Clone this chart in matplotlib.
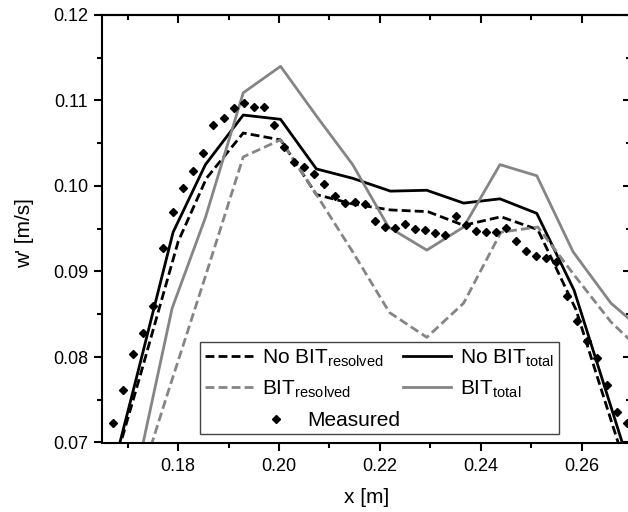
import matplotlib
matplotlib.use("Agg")
import matplotlib.pyplot as plt
from matplotlib.lines import Line2D

plt.rcParams['font.family'] = ['Liberation Sans', 'DejaVu Sans']
plt.rcParams['mathtext.default'] = 'regular'

# Measured data (x every 2 mm)
x_meas = [0.167, 0.169, 0.171, 0.173, 0.175, 0.177, 0.179, 0.181, 0.183, 0.185,
          0.187, 0.189, 0.191, 0.193, 0.195, 0.197, 0.199, 0.201, 0.203, 0.205,
          0.207, 0.209, 0.211, 0.213, 0.215, 0.217, 0.219, 0.221, 0.223, 0.225,
          0.227, 0.229, 0.231, 0.233, 0.235, 0.237, 0.239, 0.241, 0.243, 0.245,
          0.247, 0.249, 0.251, 0.253, 0.255, 0.257, 0.259, 0.261, 0.263, 0.265,
          0.267, 0.269]
w_meas = [0.0723, 0.0761, 0.0804, 0.0828, 0.0860, 0.0927, 0.0970, 0.0998, 0.1018, 0.1039,
          0.1071, 0.1080, 0.1091, 0.1097, 0.1092, 0.1092, 0.1071, 0.1046, 0.1028, 0.1022,
          0.1014, 0.1002, 0.0988, 0.0980, 0.0981, 0.0979, 0.0959, 0.0952, 0.0951, 0.0956,
          0.0950, 0.0949, 0.0945, 0.0943, 0.0965, 0.0954, 0.0947, 0.0946, 0.0946, 0.0951,
          0.0936, 0.0924, 0.0918, 0.0916, 0.0911, 0.0871, 0.0842, 0.0819, 0.0799, 0.0767,
          0.0736, 0.0723]

# Simulations
x_nobit_tot = [0.1643, 0.1717, 0.1790, 0.1854, 0.1929, 0.2003, 0.2074, 0.2146,
               0.2221, 0.2293, 0.2366, 0.2438, 0.2511, 0.2585, 0.2658, 0.2731]
w_nobit_tot = [0.0604, 0.0775, 0.0946, 0.1025, 0.1083, 0.1078, 0.1020, 0.1009,
               0.0994, 0.0995, 0.0980, 0.0985, 0.0968, 0.0878, 0.0742, 0.0605]

x_nobit_res = [0.1653, 0.1727, 0.1800, 0.1856, 0.1929, 0.2003, 0.2074, 0.2146,
               0.2221, 0.2295, 0.2366, 0.2440, 0.2513, 0.2589, 0.2662, 0.2735]
w_nobit_res = [0.0632, 0.0783, 0.0935, 0.1009, 0.1062, 0.1054, 0.0990, 0.0979,
               0.0972, 0.0970, 0.0954, 0.0964, 0.0949, 0.0855, 0.0719, 0.0584]

x_bit_tot = [0.1715, 0.1788, 0.1854, 0.1929, 0.2003, 0.2074, 0.2146, 0.2217,
             0.2293, 0.2366, 0.2438, 0.2511, 0.2583, 0.2658, 0.2731]
w_bit_tot = [0.0657, 0.0857, 0.0963, 0.1109, 0.1140, 0.1082, 0.1025, 0.0952,
             0.0925, 0.0952, 0.1025, 0.1012, 0.0923, 0.0863, 0.0826]

x_bit_res = [0.1707, 0.1780, 0.1856, 0.1929, 0.2003, 0.2074, 0.2146, 0.2219,
             0.2293, 0.2366, 0.2440, 0.2513, 0.2585, 0.2658, 0.2731]
w_bit_res = [0.0623, 0.0759, 0.0898, 0.1034, 0.1054, 0.0990, 0.0923, 0.0852,
             0.0823, 0.0863, 0.0946, 0.0952, 0.0896, 0.0841, 0.0800]

gray = '#858585'
dash = (3.2, 1.5)

fig = plt.figure(figsize=(6.28, 5.12), dpi=100)
ax = fig.add_axes([101.5 / 628, (512 - 442.5) / 512, 530.6 / 628, 427.5 / 512])

l_nr, = ax.plot(x_nobit_res, w_nobit_res, color='black', lw=2.0, dashes=dash)
l_nt, = ax.plot(x_nobit_tot, w_nobit_tot, color='black', lw=2.0)
l_br, = ax.plot(x_bit_res, w_bit_res, color=gray, lw=2.0, dashes=dash)
l_bt, = ax.plot(x_bit_tot, w_bit_tot, color=gray, lw=2.0)
l_m, = ax.plot(x_meas, w_meas, linestyle='none', marker='D', ms=4.2,
               color='black', zorder=5)

ax.set_xlim(0.1648, 0.2700)
ax.set_ylim(0.07, 0.12)
ax.set_xticks([0.18, 0.20, 0.22, 0.24, 0.26])
ax.set_xticks([0.17, 0.19, 0.21, 0.23, 0.25, 0.27], minor=True)
ax.set_yticks([0.07, 0.08, 0.09, 0.10, 0.11, 0.12])
ax.set_yticks([0.075, 0.085, 0.095, 0.105, 0.115], minor=True)
ax.set_xticklabels(['0.18', '0.20', '0.22', '0.24', '0.26'])
ax.set_yticklabels(['0.07', '0.08', '0.09', '0.10', '0.11', '0.12'])

for s in ax.spines.values():
    s.set_linewidth(1.5)
ax.tick_params(which='major', length=5.5, width=1.5, labelsize=13, pad=4,
               colors='black')
ax.tick_params(which='minor', length=3.5, width=1.5)
ax.tick_params(axis='x', which='major', pad=6)

# inward ticks on top and right
top = ax.secondary_xaxis('top')
top.set_xticks([0.18, 0.20, 0.22, 0.24, 0.26])
top.set_xticks([0.17, 0.19, 0.21, 0.23, 0.25, 0.27], minor=True)
top.tick_params(which='both', direction='in', labeltop=False, width=1.5)
top.tick_params(which='major', length=5.5)
top.tick_params(which='minor', length=3.5)
top.spines['top'].set_linewidth(1.5)
right = ax.secondary_yaxis('right')
right.set_yticks([0.07, 0.08, 0.09, 0.10, 0.11, 0.12])
right.set_yticks([0.075, 0.085, 0.095, 0.105, 0.115], minor=True)
right.tick_params(which='both', direction='in', labelright=False, width=1.5)
right.tick_params(which='major', length=6.5)
right.tick_params(which='minor', length=4)

ax.set_xlabel('x [m]', fontsize=15)
ax.set_ylabel("w' [m/s]", fontsize=15)
ax.xaxis.set_label_coords(0.499, -0.106)
ax.yaxis.set_label_coords(-0.127, 0.49)

blank = Line2D([], [], linestyle='none')
leg = ax.legend([l_nr, l_br, blank, l_nt, l_bt],
                ['No BIT$_{resolved}$', 'BIT$_{resolved}$', ' ',
                 'No BIT$_{total}$', 'BIT$_{total}$'],
                ncol=2, loc='upper left', bbox_to_anchor=(0.1856, 0.235),
                borderaxespad=0, fontsize=15, handlelength=2.3,
                handletextpad=0.45, columnspacing=0.9, borderpad=0.25,
                labelspacing=0.48, fancybox=False, framealpha=1,
                edgecolor='#444444')
leg.get_frame().set_linewidth(1.0)
ax.add_artist(leg)
ax.legend([l_m], ['Measured'], loc='center left',
          bbox_to_anchor=(0.3093, 0.0503), borderaxespad=0, borderpad=0,
          fontsize=15, handlelength=1.0, handletextpad=1.0, frameon=False)

fig.savefig('out.png', dpi=100)
